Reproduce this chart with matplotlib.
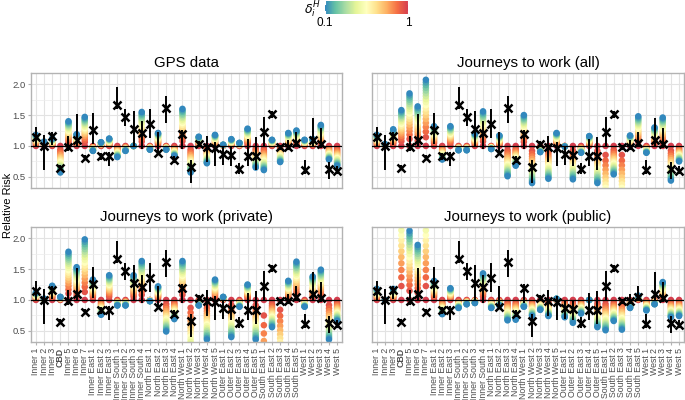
import matplotlib
matplotlib.use('Agg')
import matplotlib.pyplot as plt
import numpy as np
from matplotlib.colors import LinearSegmentedColormap, Normalize
from matplotlib.cm import ScalarMappable

plt.rcParams['font.family'] = ['Liberation Sans', 'DejaVu Sans']

# areas along the x axis
areas = ['Inner 1', 'Inner 2', 'Inner 3', 'CBD', 'Inner 5', 'Inner 6', 'Inner 7',
         'Inner East 1', 'Inner East 2', 'Inner East 3',
         'Inner South 1', 'Inner South 2', 'Inner South 3', 'Inner South 4',
         'North East 1', 'North East 2', 'North East 3', 'North East 4',
         'North West 1', 'North West 2', 'North West 3', 'North West 4', 'North West 5',
         'Outer East 1', 'Outer East 2', 'Outer East 3', 'Outer East 4', 'Outer East 5',
         'South East 1', 'South East 2', 'South East 3', 'South East 4', 'South East 5',
         'West 1', 'West 2', 'West 3', 'West 4', 'West 5']

# relative risk estimate and interval (same in every panel)
rr = [1.14, 1.00, 1.16, 0.65, 0.99, 1.09, 0.81, 1.26, 0.84, 0.83, 1.67, 1.47, 1.27, 1.21,
      1.35, 0.89, 1.61, 0.78, 1.20, 0.66, 1.03, 0.99, 0.97, 0.87, 0.86, 0.62, 0.84, 0.83,
      1.22, 1.51, 0.98, 0.98, 1.04, 0.61, 1.10, 1.03, 0.63, 0.60]
rr_lo = [1.00, 0.61, 1.02, 0.62, 0.92, 0.99, 0.78, 1.03, 0.77, 0.68, 1.59, 1.33, 0.99, 0.95,
         1.13, 0.87, 1.37, 0.72, 0.95, 0.40, 0.98, 0.74, 0.68, 0.69, 0.67, 0.55, 0.67, 0.61,
         0.99, 1.45, 0.94, 0.93, 0.99, 0.54, 1.00, 0.96, 0.47, 0.54]
rr_hi = [1.30, 1.18, 1.23, 0.70, 1.16, 1.52, 0.85, 1.53, 0.89, 0.91, 1.96, 1.59, 1.57, 1.40,
         1.59, 1.22, 1.80, 0.84, 1.26, 0.78, 1.08, 1.16, 1.07, 0.99, 0.99, 0.72, 1.11, 1.15,
         1.47, 1.56, 1.02, 1.09, 1.23, 0.77, 1.45, 1.29, 0.74, 0.67]

# relative risk reached at delta = 0.1 (end of each coloured column)
end_gps = [1.18, 1.07, 1.12, 0.57, 1.40, 1.19, 1.47, 0.92, 1.06, 1.12, 0.82, 0.92, 1.00, 1.55,
           0.94, 1.21, 0.94, 0.84, 1.60, 0.57, 1.15, 0.72, 1.18, 1.02, 1.11, 1.05, 1.28, 0.65,
           0.61, 1.10, 0.74, 1.21, 1.25, 1.10, 1.11, 1.34, 0.78, 0.68]
end_all = [1.18, 1.03, 1.27, 1.58, 1.85, 1.64, 2.07, 1.32, 0.78, 1.32, 0.93, 0.93, 1.20, 1.56,
           0.95, 1.17, 0.51, 0.68, 1.50, 0.40, 0.90, 0.47, 1.21, 0.99, 0.46, 0.89, 1.16, 0.40,
           -0.10, 0.54, -0.10, 1.17, 1.48, 0.89, 1.30, 1.46, 0.44, 0.75]
end_private = [1.12, 1.02, 1.23, 1.05, 1.78, 1.53, 1.98, 1.33, 0.76, 1.40, 0.91, 0.91, 1.40, 1.63,
               0.98, 1.22, 0.49, 0.69, 1.63, 0.04, 0.91, 0.36, 1.33, 1.05, 0.40, 0.89, 1.25, 0.36,
               -0.90, 0.56, -0.20, 1.31, 1.62, 0.89, 1.38, 1.49, 0.36, 0.66]
end_public = [1.18, 1.00, 1.18, 2.70, 2.12, 1.89, 2.70, 1.31, 0.77, 1.19, 0.87, 0.93, 0.95, 1.43,
              0.87, 0.91, 0.67, 0.68, 0.89, 0.74, 0.84, 0.74, 1.02, 0.72, 0.63, 0.78, 1.00, 0.56,
              0.51, 0.66, 0.52, 0.87, 1.07, 0.83, 0.93, 1.29, 0.72, 0.74]

titles = ['GPS data', 'Journeys to work (all)', 'Journeys to work (private)', 'Journeys to work (public)']
ends = [end_gps, end_all, end_private, end_public]

deltas = np.linspace(1, 0.1, 19)

spectral = ['#3288BD', '#66C2A5', '#ABDDA4', '#E6F598', '#FFFFBF',
            '#FEE08B', '#FDAE61', '#F46D43', '#D53E4F']
cmap = LinearSegmentedColormap.from_list('spec', spectral)
norm = Normalize(0.1, 1)

fig = plt.figure(figsize=(6.85, 4.0), dpi=100)
boxes = [[0.0453, 0.53, 0.454, 0.2875], [0.543, 0.53, 0.4555, 0.2875],
         [0.0453, 0.145, 0.454, 0.2875], [0.543, 0.145, 0.4555, 0.2875]]

x = np.arange(len(areas))
for k in range(4):
    ax = fig.add_axes(boxes[k])
    ax.set_xlim(-0.6, len(areas) - 0.4)
    ax.set_ylim(0.32, 2.18)
    ax.set_yticks([0.5, 1.0, 1.5, 2.0])
    ax.set_yticks([0.75, 1.25, 1.75], minor=True)
    ax.set_xticks(x)
    ax.grid(True, which='major', color='#e3e3e3', lw=0.8, zorder=0)
    ax.grid(True, which='minor', axis='y', color='#ececec', lw=0.5, zorder=0)
    ax.set_axisbelow(True)
    for s in ax.spines.values():
        s.set_color('#b3b3b3')
        s.set_linewidth(1.0)
    ax.tick_params(which='minor', length=0)
    ax.tick_params(which='major', color='#b3b3b3', length=2.5, pad=1.5,
                   labelsize=6.8, labelcolor='#4d4d4d')

    # coloured columns: relative risk as delta goes from 1 down to 0.1
    end = ends[k]
    for i in range(len(areas)):
        ys = 1 + (end[i] - 1) * ((1 - deltas) / 0.9) ** 0.7
        ax.scatter(np.full(len(deltas), x[i]), ys, c=deltas, cmap=cmap, norm=norm,
                   s=22, linewidths=0, zorder=2)

    ax.axhline(1.0, color='black', lw=0.9, zorder=3)
    ax.vlines(x, rr_lo, rr_hi, color='black', lw=1.4, zorder=4)
    ax.plot(x, rr, 'x', color='black', ms=6.3, mew=1.8, zorder=5)

    ax.set_title(titles[k], fontsize=10.8, pad=4)

    if k < 2:
        ax.tick_params(axis='x', labelbottom=False, length=0)
    else:
        ax.set_xticklabels(areas, rotation=90, fontsize=6.3, color='#4d4d4d')
        for lab in ax.get_xticklabels():
            if lab.get_text() == 'CBD':
                lab.set_fontweight('bold')
    if k % 2 == 1:
        ax.tick_params(axis='y', labelleft=False, length=0)

fig.text(0.011, 0.487, 'Relative Risk', rotation=90, ha='center', va='center', fontsize=8)

# colour legend at the top
cax = fig.add_axes([0.4745, 0.965, 0.121, 0.0325])
cb = fig.colorbar(ScalarMappable(norm=norm, cmap=cmap), cax=cax, orientation='horizontal')
cb.outline.set_visible(False)
cb.set_ticks([0.1, 1])
cb.set_ticklabels(['0.1', '1'])
cax.tick_params(length=0, labelsize=8.5, pad=2)
for v in [0.1, 1]:
    cax.axvline(v, ymin=0, ymax=0.2, color='white', lw=0.8)
    cax.axvline(v, ymin=0.8, ymax=1, color='white', lw=0.8)
fig.text(0.468, 0.975, r'$\delta_i^H$', ha='right', va='center', fontsize=9)

fig.savefig('out.png', dpi=100)
